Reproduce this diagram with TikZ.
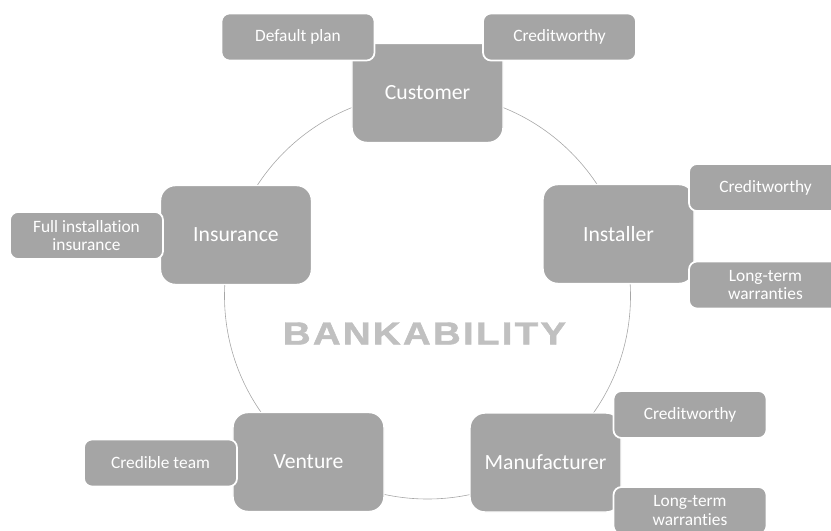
\documentclass[tikz,border=0pt]{standalone}
\usepackage{fontspec}
\setmainfont{Carlito}[Ligatures=NoCommon]
\newfontfamily\headfont[FakeBold=1.5, LetterSpace=6]{Liberation Sans Bold}
\usepackage{tikz}
\usetikzlibrary{positioning}
\definecolor{boxgray}{HTML}{A5A5A5}
\definecolor{ringgray}{HTML}{A6A6A6}
\definecolor{titlegray}{HTML}{C0C0C0}
\tikzset{
    mainbox/.style={
        draw=white,
        line width=1.2pt,
        fill=boxgray,
        rounded corners=0.45cm,
        minimum width=4.53cm,
        minimum height=2.97cm,
        text=white,
        font=\fontsize{18.5}{22}\selectfont
    },
    subbox/.style={
        draw=white,
        line width=1.5pt,
        fill=boxgray,
        rounded corners=0.24cm,
        minimum width=4.59cm,
        minimum height=1.41cm,
        align=center,
        text=white,
        font=\fontsize{14.8}{15.5}\selectfont
    }
}

\begin{document}
\begin{tikzpicture}[x=0.03cm, y=-0.03cm]
    \useasboundingbox (0,0) rectangle (831,531);
    \clip (0,0) rectangle (831,531);

    % Ring and title
    \coordinate (hub) at (427.5,296);
    \draw[ringgray, line width=0.5pt] (hub) circle[radius=6.09cm];
    \node[text=titlegray, inner sep=0pt, font=\headfont\fontsize{27.3}{30}\selectfont] (title) at (424.5,333.5) {\scalebox{1.2}[1]{BANKABILITY}};

    % Main boxes
    \node[mainbox] (customer) at (427.5,93) {Customer};
    \node[mainbox] (installer) at (618.5,234) {Installer};
    \node[mainbox] (manufacturer) at (545.5,462.5) {Manufacturer};
    \node[mainbox] (venture) at (308.5,462) {Venture};
    \node[mainbox] (insurance) at (236,235) {Insurance};

    % Requirements
    \node[subbox] (plan) at (298,37) {Default plan};
    \node[subbox] (custcredit) at (559.5,37) {Creditworthy};
    \node[subbox] (instcredit) at (765.5,187.5) {Creditworthy};
    \node[subbox] (instwarranty) at (765.5,285) {Long-term\\warranties};
    \node[subbox] (mfgcredit) at (690,414.5) {Creditworthy};
    \node[subbox] (mfgwarranty) at (690,510.5) {Long-term\\warranties};
    \node[subbox] (team) at (160.5,463) {Credible team};
    \node[subbox] (cover) at (86.5,235.5) {Full installation\\insurance};
\end{tikzpicture}
\end{document}
